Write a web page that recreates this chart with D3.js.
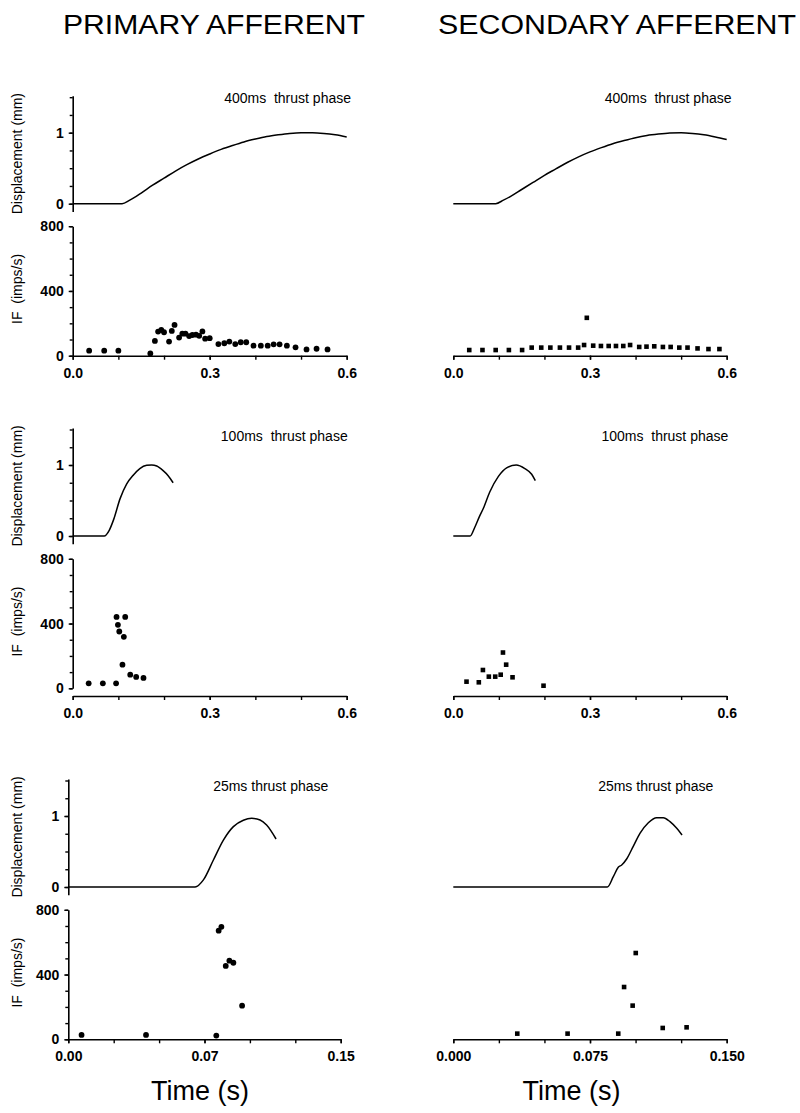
<!DOCTYPE html>
<html>
<head>
<meta charset="utf-8">
<script src="https://cdn.jsdelivr.net/npm/d3@7"></script>
<style>
  body { margin: 0; background: #fff; }
  svg { display: block; }
  text { font-family: "Liberation Sans", Arial, sans-serif; fill: #000; white-space: pre; }
  .tick text { font-weight: bold; font-size: 14px; }
</style>
</head>
<body>
<div id="chart"></div>
<script>
// ---- data ----
const columnTitles = ["PRIMARY AFFERENT", "SECONDARY AFFERENT"];
const phaseLabels = ["400ms  thrust phase", "100ms  thrust phase", "25ms thrust phase"];

// x ticks per row (values and printed labels)
const xTicksRow0 = [0, 0.3, 0.6];
const xTicksRow1 = [0, 0.3, 0.6];
const xTicksRow2 = [0, 0.075, 0.15];
const xLabelsRow0 = ["0.0", "0.3", "0.6"];
const xLabelsRow2Left = ["0.00", "0.07", "0.15"];
const xLabelsRow2Right = ["0.000", "0.075", "0.150"];
const dispTicks = [0, 1];
const ifTicks = [0, 400, 800];

// displacement traces [time s, mm]
const disp400Primary = [[0, 0], [0.05, 0], [0.108, 0], [0.125, 0.05], [0.15, 0.15], [0.175, 0.26], [0.2, 0.36],
  [0.225, 0.46], [0.25, 0.55], [0.275, 0.63], [0.3, 0.7], [0.325, 0.765], [0.35, 0.82], [0.375, 0.87],
  [0.4, 0.91], [0.425, 0.945], [0.45, 0.97], [0.475, 0.99], [0.5, 1.0], [0.525, 1.0], [0.55, 0.99],
  [0.575, 0.97], [0.6, 0.94]];
const disp400Secondary = [[0, 0], [0.05, 0], [0.093, 0], [0.11, 0.05], [0.125, 0.1], [0.15, 0.2], [0.175, 0.3],
  [0.2, 0.4], [0.225, 0.49], [0.25, 0.58], [0.275, 0.66], [0.3, 0.73], [0.325, 0.79], [0.35, 0.845],
  [0.375, 0.89], [0.4, 0.93], [0.425, 0.96], [0.45, 0.98], [0.475, 0.995], [0.5, 1.0], [0.525, 0.99],
  [0.55, 0.97], [0.575, 0.94], [0.6, 0.905]];
const disp100Primary = [[0, 0], [0.069, 0], [0.08, 0.08], [0.089, 0.22], [0.104, 0.53], [0.118, 0.73],
  [0.133, 0.86], [0.147, 0.95], [0.162, 0.995], [0.173, 1.0], [0.184, 0.985], [0.198, 0.92],
  [0.209, 0.85], [0.22, 0.75]];
const disp100Secondary = [[0, 0], [0.037, 0], [0.047, 0.12], [0.057, 0.27], [0.066, 0.39], [0.08, 0.62],
  [0.099, 0.84], [0.117, 0.96], [0.138, 1.0], [0.157, 0.95], [0.172, 0.87], [0.18, 0.78]];
const disp25Primary = [[0, 0], [0.04, 0], [0.0698, 0], [0.0744, 0.1], [0.0799, 0.38], [0.0854, 0.66],
  [0.0909, 0.85], [0.0964, 0.94], [0.101, 0.967], [0.1056, 0.944], [0.1092, 0.873], [0.1144, 0.676]];
const disp25Secondary = [[0, 0], [0.04, 0], [0.0845, 0], [0.0878, 0.146], [0.0905, 0.277], [0.0924, 0.31],
  [0.0951, 0.394], [0.0988, 0.577], [0.1024, 0.756], [0.107, 0.906], [0.1116, 0.977], [0.1152, 0.977],
  [0.1189, 0.92], [0.1226, 0.826], [0.1255, 0.732]];

// instantaneous frequency [time s, imps/s]
const if400Primary = [[0.036, 31], [0.069, 31], [0.1, 31], [0.17, 14], [0.18, 91], [0.187, 149], [0.194, 159],
  [0.2, 145], [0.211, 87], [0.217, 153], [0.223, 190], [0.233, 112], [0.24, 136], [0.247, 136],
  [0.255, 121], [0.262, 128], [0.27, 130], [0.277, 123], [0.284, 150], [0.29, 105], [0.3, 108],
  [0.319, 72], [0.332, 77], [0.343, 87], [0.356, 72], [0.368, 83], [0.38, 83], [0.396, 62],
  [0.412, 62], [0.427, 62], [0.44, 70], [0.453, 70], [0.469, 62], [0.488, 52], [0.512, 39],
  [0.534, 43], [0.558, 39]];
const if400Secondary = [[0.035, 35], [0.064, 35], [0.093, 35], [0.122, 35], [0.151, 35], [0.172, 50],
  [0.193, 50], [0.213, 50], [0.234, 50], [0.254, 50], [0.274, 50], [0.287, 66], [0.293, 234],
  [0.307, 62], [0.324, 60], [0.341, 60], [0.357, 60], [0.373, 60], [0.388, 66], [0.408, 54],
  [0.424, 56], [0.441, 58], [0.46, 54], [0.477, 54], [0.496, 50], [0.514, 50], [0.536, 45],
  [0.56, 41], [0.584, 41]];
const if100Primary = [[0.035, 31], [0.066, 31], [0.095, 31], [0.096, 441], [0.099, 392], [0.102, 351],
  [0.109, 146], [0.112, 318], [0.115, 441], [0.126, 84], [0.139, 70], [0.155, 64]];
const if100Secondary = [[0.029, 41], [0.056, 37], [0.065, 113], [0.078, 72], [0.092, 72], [0.104, 84],
  [0.109, 221], [0.116, 146], [0.13, 68], [0.198, 16]];
const if25Primary = [[0.0073, 27], [0.0428, 27], [0.0815, 23], [0.0828, 671], [0.0843, 695],
  [0.0867, 453], [0.0887, 486], [0.0909, 473], [0.0957, 208]];
const if25Secondary = [[0.0351, 35], [0.0627, 35], [0.0905, 35], [0.0937, 323], [0.0984, 208],
  [0.1001, 533], [0.1149, 70], [0.128, 74]];

// ---- layout ----
const width = 800, height = 1113;
const svg = d3.select("#chart").append("svg")
  .attr("width", width).attr("height", height);

const dispUnit = 71;      // px per mm
const ifSpan = 129.5;     // px for 0..800
const rows = [
  { dispZero: 203.7, ifZero: 355.7, xAxisY: 355.7, labelY: 98, xTicks: xTicksRow0, xDomain: [0, 0.6],
    xMinor: 0.1, labels: [xLabelsRow0, xLabelsRow0], xLeft: [72.7, 346.7], phase: phaseLabels[0],
    phaseRight: [351, 731.5], data: [[disp400Primary, if400Primary], [disp400Secondary, if400Secondary]] },
  { dispZero: 536, ifZero: 688.3, xAxisY: 696, labelY: 436, xTicks: xTicksRow1, xDomain: [0, 0.6],
    xMinor: 0.1, labels: [xLabelsRow0, xLabelsRow0], xLeft: [72.7, 346.7], phase: phaseLabels[1],
    phaseRight: [347.7, 728.3], data: [[disp100Primary, if100Primary], [disp100Secondary, if100Secondary]] },
  { dispZero: 887, ifZero: 1039.3, xAxisY: 1039.3, labelY: 786, xTicks: xTicksRow2, xDomain: [0, 0.15],
    xMinor: 0.025, labels: [xLabelsRow2Left, xLabelsRow2Right], xLeft: [68.3, 340.7], phase: phaseLabels[2],
    phaseRight: [328.3, 713.3], data: [[disp25Primary, if25Primary], [disp25Secondary, if25Secondary]] }
];
const xRight = [453.3, 726.7];

// column titles
[214, 617].forEach((cx, i) => {
  svg.append("text")
    .attr("x", cx).attr("y", 34)
    .attr("text-anchor", "middle")
    .attr("font-size", 27)
    .attr("textLength", i == 0 ? 302 : 358)
    .attr("lengthAdjust", "spacingAndGlyphs")
    .text(columnTitles[i]);
});

function styleAxis(g) {
  g.selectAll(".domain").attr("stroke", "#000").attr("stroke-width", 1.6);
  g.selectAll(".tick line").attr("stroke", "#000").attr("stroke-width", 1.4);
  g.selectAll(".tick text").attr("font-family", "Liberation Sans, Arial, sans-serif");
}

function minorTicks(lo, hi, step) {
  const out = [];
  for (let i = 0; lo + i * step <= hi + 1e-9; i++) out.push(+(lo + i * step).toFixed(6));
  return out;
}

rows.forEach((row, r) => {
  [0, 1].forEach(col => {
    const xr = col == 0 ? row.xLeft : xRight;
    const x = d3.scaleLinear().domain(row.xDomain).range(xr);
    const yD = d3.scaleLinear()
      .domain([-0.11, 1.52])
      .range([row.dispZero + 0.11 * dispUnit, row.dispZero - 1.52 * dispUnit]);
    const yF = d3.scaleLinear().domain([0, 800]).range([row.ifZero, row.ifZero - ifSpan]);

    const [disp, freq] = row.data[col];

    // displacement trace
    svg.append("path")
      .datum(disp)
      .attr("fill", "none")
      .attr("stroke", "#000")
      .attr("stroke-width", 1.5)
      .attr("d", d3.line().x(d => x(d[0])).y(d => yD(d[1])).curve(d3.curveMonotoneX));

    // IF markers
    if (col == 0) {
      svg.append("g").selectAll("circle")
        .data(freq).enter().append("circle")
        .attr("cx", d => x(d[0])).attr("cy", d => yF(d[1]))
        .attr("r", 2.9).attr("fill", "#000");
    } else {
      svg.append("g").selectAll("rect")
        .data(freq).enter().append("rect")
        .attr("x", d => x(d[0]) - 2.3).attr("y", d => yF(d[1]) - 2.3)
        .attr("width", 4.6).attr("height", 4.6).attr("fill", "#000");
    }

    // x axis
    const xMinor = svg.append("g").attr("transform", `translate(0,${row.xAxisY})`)
      .call(d3.axisBottom(x).tickValues(minorTicks(row.xDomain[0], row.xDomain[1], row.xMinor))
        .tickFormat("").tickSize(4).tickSizeOuter(0));
    styleAxis(xMinor);
    const xAx = svg.append("g").attr("transform", `translate(0,${row.xAxisY})`)
      .call(d3.axisBottom(x).tickValues(row.xTicks)
        .tickFormat((d, i) => row.labels[col][i]).tickSize(4).tickSizeOuter(0).tickPadding(8));
    xAx.select(".domain").remove();
    styleAxis(xAx);

    // phase label
    svg.append("text")
      .attr("x", row.phaseRight[col]).attr("y", row.labelY + 5)
      .attr("text-anchor", "end")
      .attr("font-size", 14)
      .text(row.phase);

    if (col == 1) return;

    // y axes (left column only)
    const axX = xr[0];
    const dMinor = svg.append("g").attr("transform", `translate(${axX},0)`)
      .call(d3.axisLeft(yD).tickValues(minorTicks(0, 1.5, 0.25)).tickFormat("").tickSize(3).tickSizeOuter(0));
    styleAxis(dMinor);
    const dAx = svg.append("g").attr("transform", `translate(${axX},0)`)
      .call(d3.axisLeft(yD).tickValues(dispTicks).tickFormat(d3.format("d")).tickSize(4).tickPadding(5));
    dAx.select(".domain").remove();
    styleAxis(dAx);

    const fMinor = svg.append("g").attr("transform", `translate(${axX},0)`)
      .call(d3.axisLeft(yF).tickValues(minorTicks(0, 800, 100)).tickFormat("").tickSize(3).tickSizeOuter(0));
    styleAxis(fMinor);
    const fAx = svg.append("g").attr("transform", `translate(${axX},0)`)
      .call(d3.axisLeft(yF).tickValues(ifTicks).tickFormat(d3.format("d")).tickSize(4).tickPadding(5));
    fAx.select(".domain").remove();
    styleAxis(fAx);

    // y titles
    svg.append("text")
      .attr("transform", `translate(22,${(yD(-0.11) + yD(1.52)) / 2}) rotate(-90)`)
      .attr("text-anchor", "middle")
      .attr("font-size", 14)
      .text("Displacement (mm)");
    svg.append("text")
      .attr("transform", `translate(22,${yF(400) - 2}) rotate(-90)`)
      .attr("text-anchor", "middle")
      .attr("font-size", 14)
      .text("IF  (imps/s)");
  });
});

// bottom x titles
[[200, "Time (s)"], [571.5, "Time (s)"]].forEach(d => {
  svg.append("text")
    .attr("x", d[0]).attr("y", 1100)
    .attr("text-anchor", "middle")
    .attr("font-size", 27)
    .text(d[1]);
});
</script>
</body>
</html>
